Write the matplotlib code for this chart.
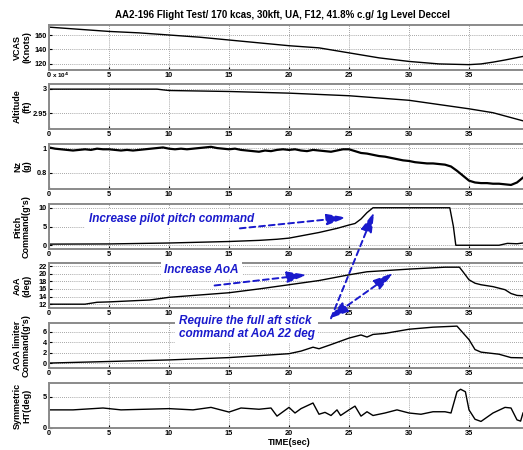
import matplotlib
matplotlib.use("Agg")
import matplotlib.pyplot as plt
from matplotlib.ticker import FormatStrFormatter

plt.rcParams["font.family"] = ["Liberation Sans", "DejaVu Sans"]
plt.rcParams["font.weight"] = "bold"

TITLE = "AA2-196 Flight Test/ 170 kcas, 30kft, UA, F12, 41.8% c.g/ 1g Level Deccel"

# --- data (time in sec) ---
vcas_t = [0, 2.5, 5, 7.5, 10, 12.5, 15, 17.5, 20, 22.5, 25, 27.5, 30, 32.5, 35, 36, 37, 38, 39.5]
vcas = [171, 168, 165, 163, 160, 157, 153, 149, 145, 142, 135, 128, 123, 119.5, 118.5, 119.5, 122, 125, 130]

alt_t = [0, 9, 9.5, 10, 15, 20, 25, 30, 35, 37, 39.5]
alt_ft = [29995, 29995, 29980, 29967, 29947, 29913, 29860, 29767, 29593, 29513, 29347]

nz_t = [i * 0.5 for i in range(80)]
nz = [1.005, 0.995, 0.99, 0.985, 0.98, 0.985, 0.99, 0.985, 0.995, 0.99,
      0.99, 0.985, 0.98, 0.985, 0.98, 0.985, 0.99, 0.995, 1.0, 1.005,
      0.995, 0.99, 0.995, 0.99, 0.995, 1.0, 1.005, 1.01, 1.0, 0.995,
      0.99, 0.995, 0.985, 0.98, 0.975, 0.97, 0.98, 0.975, 0.985, 0.99,
      0.985, 0.99, 0.98, 0.975, 0.985, 0.98, 0.975, 0.97, 0.98, 0.99,
      0.99, 0.975, 0.96, 0.955, 0.945, 0.935, 0.93, 0.92, 0.91, 0.90,
      0.895, 0.885, 0.88, 0.875, 0.875, 0.87, 0.865, 0.85, 0.815, 0.775,
      0.735, 0.72, 0.715, 0.715, 0.71, 0.71, 0.705, 0.70, 0.72, 0.76]

pitch_t = [0, 5, 10, 15, 17.5, 19, 20, 21, 22.5, 24, 25, 25.5, 26, 26.5, 27, 33.4, 33.7, 33.9, 37.5, 38.2, 39, 39.5]
pitch = [0.3, 0.35, 0.6, 1.0, 1.3, 1.6, 1.9, 2.5, 3.4, 4.5, 5.4, 5.8, 7.0, 8.7, 10, 10, 5, 0, 0, 0.5, 0.4, 0.6]

aoa_t = [0, 3, 4, 5, 8.4, 10, 12.5, 15, 17.5, 20, 22.5, 25, 26.5, 28, 30, 33, 34.2, 34.5, 35, 35.5, 36, 37, 38, 38.5, 39, 39.5]
aoa = [12.0, 12.0, 12.5, 12.6, 13.1, 13.8, 14.4, 15.0, 16.0, 17.1, 18.2, 19.7, 20.5, 20.8, 21.2, 21.7, 21.7, 20.5, 18.4, 17.5, 17.1, 16.6, 15.8, 14.8, 14.3, 14.2]

lim_t = [0, 5, 10, 15, 18, 20, 21, 22, 22.5, 23.5, 25, 26, 26.5, 27, 28, 30, 32, 34, 35, 35.5, 36, 37.5, 38.5, 39.5]
lim = [0, 0.3, 0.6, 1.05, 1.5, 1.8, 2.3, 3.05, 2.75, 3.55, 4.8, 5.4, 5.0, 5.5, 5.7, 6.5, 6.9, 7.1, 4.5, 2.6, 2.1, 1.7, 1.05, 1.0]

ht_t = [0, 2, 4.5, 6, 8, 10, 12, 13.5, 15, 16, 17.5, 18.5, 19, 20, 20.5, 21, 22, 22.5, 23, 23.5, 24, 24.3,
        25, 25.5, 26, 26.5, 27, 28, 29, 30, 31, 32, 33, 33.5, 34, 34.3, 34.7, 35, 35.5, 36, 37, 38, 38.5, 39, 39.3, 39.5]
ht = [2.9, 2.9, 3.2, 2.9, 3.0, 3.1, 2.9, 3.3, 2.55, 3.2, 3.0, 3.2, 1.9, 3.3, 2.4, 3.1, 4.0, 2.2, 2.5, 2.0, 2.9, 2.0,
      2.9, 3.5, 1.9, 2.6, 2.0, 2.4, 2.9, 2.4, 2.2, 2.6, 2.6, 2.4, 5.8, 6.2, 5.8, 2.9, 1.4, 1.05, 2.4, 3.3, 3.2, 1.3, 1.1, 2.4]

panels = [
    ("VCAS\n(Knots)", vcas_t, vcas, (111, 174), [120, 140, 160]),
    ("Altitude\n(ft)", alt_t, [a / 1e4 for a in alt_ft], (2.918, 3.01), [2.95, 3.0]),
    ("Nz\n(g)", nz_t, nz, (0.667, 1.033), [0.8, 1.0]),
    ("Pitch\nCommand(g's)", pitch_t, pitch, (-1, 11), [0, 5, 10]),
    ("AoA\n(deg)", aoa_t, aoa, (11, 22.8), [12, 14, 16, 18, 20, 22]),
    ("AOA limiter\nCommand(g's)", lim_t, lim, (-0.95, 7.7), [0, 2, 4, 6]),
    ("Symmetric\nHT(deg)", ht_t, ht, (0, 7.2), [0, 5]),
]

W, H = 523, 450
fig = plt.figure(figsize=(W / 100, H / 100), dpi=100)

left_px, width_px, height_px = 49, 480, 45
tops = [25, 84, 144, 204, 263, 323, 383]
axes = []
for (label, t, y, ylim, yticks), top in zip(panels, tops):
    ax = fig.add_axes([left_px / W, 1 - (top + height_px) / H, width_px / W, height_px / H])
    lw = 1.6 if label.startswith("Nz") else 1.0
    ax.plot(t, y, color="black", linewidth=lw)
    ax.set_xlim(0, 40)
    ax.set_ylim(*ylim)
    ax.set_xticks(range(0, 40, 5))
    ax.set_yticks(yticks)
    ax.yaxis.set_major_formatter(FormatStrFormatter("%g"))
    ax.tick_params(direction="in", length=2, labelsize=5.3, pad=1.5, colors="black")
    ax.grid(True, linestyle=(0, (1, 1.5)), color="#888888", linewidth=0.6)
    for sp in ax.spines.values():
        sp.set_color("#8a8a8a")
        sp.set_linewidth(1.4)
    fig.text(22 / W, 1 - (top + height_px / 2) / H, label, rotation=90, ha="center",
             va="center", fontsize=6.5, fontweight="bold", multialignment="center",
             linespacing=1.0)
    axes.append(ax)

ax_vcas, ax_alt, ax_nz, ax_pitch, ax_aoa, ax_lim, ax_ht = axes

# the note box below the AoA panel hides its 15 and 20 time labels
ax_aoa.set_xticks(range(0, 40, 5), ["0", "5", "10", "", "", "25", "30", "35"])

fig.text(0.54, 1 - 15 / H, TITLE, ha="center", va="center", fontsize=7, fontweight="bold")
fig.text(52 / W, 1 - 75 / H, r"x 10$^4$", ha="left", va="center", fontsize=4.5)
ax_ht.set_xlabel("TIME(sec)", fontsize=6.5, fontweight="bold", labelpad=1)

blue = "#1a1acc"
note_font = dict(color=blue, fontsize=8.5, fontweight="bold", fontstyle="italic")
box = dict(facecolor="white", edgecolor="none", pad=2.5)

ax_pitch.text(3.3, 7.1, "Increase pilot pitch command", ha="left", va="center",
              bbox=box, zorder=5, **note_font)
ax_aoa.text(9.6, 21.0, "Increase AoA", ha="left", va="center", bbox=box,
            clip_on=False, zorder=5, **note_font)
ax_lim.text(10.8, 6.9, "Require the full aft stick\ncommand at AoA 22 deg", ha="left",
            va="center", bbox=box, clip_on=False, zorder=5, linespacing=1.1, **note_font)

arrow = dict(arrowstyle="-|>,head_length=1.0,head_width=0.28", linestyle=(0, (3, 2)),
             color=blue, lw=1.4, mutation_scale=12, shrinkA=0, shrinkB=0)
arrow2 = dict(arrow, arrowstyle="<|-|>,head_length=1.0,head_width=0.28")

ax_pitch.annotate("", xy=(24.8, 7.4), xytext=(15.9, 4.5), arrowprops=arrow, zorder=6)
ax_aoa.annotate("", xy=(21.5, 19.7), xytext=(13.8, 16.9), arrowprops=arrow, zorder=6)
ax_ht.annotate("", xy=(27.1, 8.9), xycoords=ax_pitch.transData, xytext=(23.5, 8.6),
               textcoords=ax_lim.transData, arrowprops=arrow, annotation_clip=False)
ax_ht.annotate("", xy=(28.7, 20.2), xycoords=ax_aoa.transData, xytext=(23.3, 8.5),
               textcoords=ax_lim.transData, arrowprops=arrow2, annotation_clip=False)

fig.savefig("out.png", dpi=100)
